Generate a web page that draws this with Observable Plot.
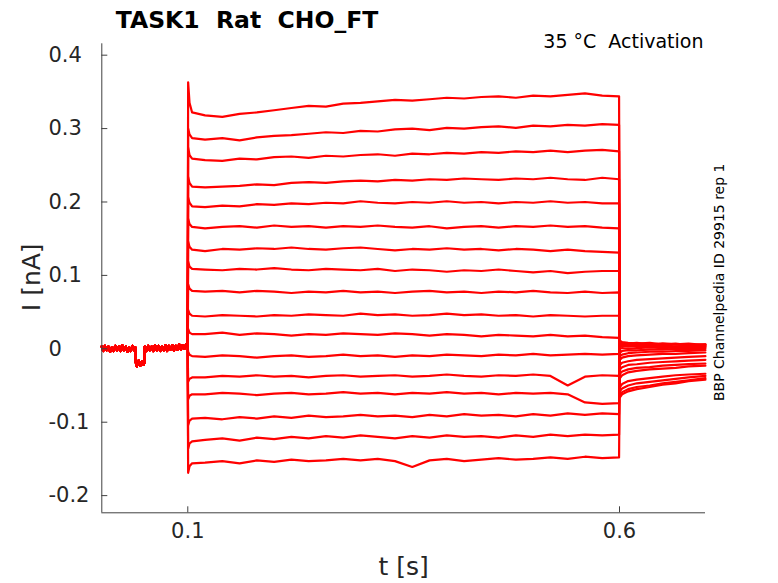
<!DOCTYPE html>
<html><head><meta charset="utf-8">
<script src="https://cdn.jsdelivr.net/npm/d3@7"></script>
<script src="https://cdn.jsdelivr.net/npm/@observablehq/plot@0.6"></script>
<style>
html,body{margin:0;padding:0;background:#fff;}
svg text{white-space:pre;}
</style></head><body><div id="chart"></div>
<script>
// ---- data (currents in pA, times in s) ----
const xTicks = [0.1, 0.6];
const yTicks = [-0.2, -0.1, 0, 0.1, 0.2, 0.3, 0.4];
const xDomain = [0.0004, 0.6996];
const yDomain = [-0.2234, 0.4155];

const holdT = [0.0004, 0.002, 0.004, 0.006, 0.008, 0.010, 0.012, 0.014, 0.016, 0.018, 0.020, 0.022, 0.024, 0.026, 0.028, 0.030, 0.032, 0.034, 0.036, 0.038, 0.0392, 0.0396, 0.041, 0.043, 0.045, 0.047, 0.049, 0.0498, 0.0502, 0.052, 0.054, 0.056, 0.058, 0.060, 0.062, 0.064, 0.066, 0.068, 0.070, 0.072, 0.074, 0.076, 0.078, 0.080, 0.082, 0.084, 0.086, 0.088, 0.090, 0.092, 0.094, 0.096, 0.098, 0.0998];
const holdI = [3, -3, 4, -2, 3, -4, 2, -3, 4, -2, 3, -3, 5, -2, 3, -4, 2, -3, 4, -2, 2, -18, -24, -16, -23, -17, -22, -18, 3, -3, 4, -2, 3, -3, 5, -2, 4, -3, 3, -2, 5, -3, 4, -1, 5, -2, 4, -1, 6, -1, 5, 0, 6, 4];

const stepT = [0.1004, 0.102, 0.105, 0.12, 0.14, 0.16, 0.18, 0.20, 0.22, 0.24, 0.26, 0.28, 0.30, 0.32, 0.34, 0.36, 0.38, 0.40, 0.42, 0.44, 0.46, 0.48, 0.50, 0.52, 0.54, 0.56, 0.58, 0.5995];
const step1  = [363, 335, 322, 318,316,320,322,325,328,331,330,334,335,337,339,338,340,342,341,343,344,342,345,344,346,348,345,344];
const step2  = [300, 292, 287, 285,287,284,288,290,291,293,295,294,297,296,299,300,298,301,300,302,303,301,304,303,305,304,306,305];
const step3  = [274, 264, 259, 257,256,259,258,261,262,260,263,262,264,265,263,266,265,267,266,268,267,269,268,270,268,270,271,269];
const step4  = [234, 226, 221, 220,221,222,224,223,226,227,226,228,229,228,230,229,231,230,232,231,230,232,231,233,231,230,233,231];
const step5  = [206, 199, 194, 193,195,194,197,196,198,197,199,198,201,199,198,200,199,201,199,200,198,200,199,201,199,200,198,198];
const step6  = [177, 170, 166, 164,166,167,165,168,166,167,165,167,166,168,166,165,167,164,166,167,165,167,166,168,166,167,165,164];
const step7  = [146, 139, 135, 133,136,135,137,136,138,136,135,137,138,136,134,136,135,137,135,136,134,136,135,133,135,133,132,131];
const step8  = [119, 112, 109, 108,107,109,108,110,108,107,109,108,107,109,106,108,107,105,107,106,108,106,104,106,103,105,106,106];
const step9  = [88, 82, 79, 78,79,77,79,78,76,78,77,79,77,78,76,78,79,77,78,76,78,77,79,77,76,78,76,77];
const step10 = [53, 48, 45, 44,46,45,44,46,45,47,46,45,48,46,47,45,46,48,46,47,45,46,44,46,45,44,45,45];
const step11 = [27, 22, 20, 20,22,19,21,20,18,20,19,21,20,19,21,20,18,20,19,17,19,18,17,19,17,18,16,15];
const step12 = [-4, -8, -10, -11,-9,-10,-12,-10,-9,-11,-10,-8,-10,-9,-11,-9,-10,-8,-9,-10,-8,-9,-7,-9,-8,-7,-8,-7];
const step13 = [-45, -41, -39, -39,-37,-38,-36,-38,-37,-39,-37,-36,-38,-37,-36,-38,-37,-35,-37,-38,-36,-37,-35,-37,-50,-38,-36,-37];
const step14 = [-69, -64, -62, -62,-60,-61,-63,-61,-60,-62,-61,-59,-61,-60,-62,-60,-61,-59,-61,-60,-62,-60,-61,-60,-62,-73,-75,-74];
const step15 = [-104, -98, -95, -94,-96,-93,-95,-92,-94,-91,-93,-92,-90,-92,-91,-93,-90,-92,-89,-91,-90,-92,-89,-91,-88,-90,-88,-89];
const step16 = [-136, -129, -126, -124,-122,-125,-121,-123,-120,-122,-119,-121,-118,-120,-122,-119,-121,-118,-120,-119,-121,-118,-120,-117,-119,-117,-118,-117];
const step17 = [-169, -160, -156, -155,-153,-156,-152,-154,-151,-153,-152,-150,-152,-150,-153,-161,-152,-150,-153,-151,-149,-151,-150,-148,-150,-147,-149,-148];

const tailT = [0.6005, 0.603, 0.61, 0.62, 0.635, 0.65, 0.665, 0.68, 0.6995];
const tail1  = [-66, -62, -58, -55, -52, -49, -47, -44, -42];
const tail2  = [-63, -59, -55, -52, -50, -47, -45, -43, -40];
const tail3  = [-58, -54, -50, -47, -45, -43, -41, -39, -37];
const tail4  = [-52, -48, -44, -42, -40, -38, -36, -35, -34];
const tail5  = [-40, -36, -32, -30, -28, -27, -26, -24, -23];
const tail6  = [-34, -31, -28, -26, -25, -23, -22, -21, -20];
const tail7  = [-28, -25, -22, -21, -19, -18, -17, -16, -15];
const tail8  = [-22, -19, -17, -15, -14, -13, -12, -11, -10];
const tail9  = [-15, -12, -10, -9, -8, -7, -7, -6, -5];
const tail10 = [-10, -8, -6, -5, -4, -4, -3, -3, -2];
const tail11 = [-5, -3, -2, -2, -1, -1, 0, 0, 0];
const tail12 = [0, 1, 0, 1, 2, 1, 2, 1, 2];
const tail13 = [3, 4, 3, 4, 3, 4, 3, 4, 3];
const tail14 = [5, 5, 4, 6, 5, 4, 6, 5, 4];
const tail15 = [7, 6, 7, 6, 5, 7, 6, 5, 6];
const tail16 = [9, 8, 7, 8, 6, 7, 6, 7, 5];
const tail17 = [11, 9, 8, 7, 8, 6, 7, 5, 6];

const steps = [step1, step2, step3, step4, step5, step6, step7, step8, step9, step10, step11, step12, step13, step14, step15, step16, step17];
const tails = [tail1, tail2, tail3, tail4, tail5, tail6, tail7, tail8, tail9, tail10, tail11, tail12, tail13, tail14, tail15, tail16, tail17];

const title = "TASK1  Rat  CHO_FT";
const note = "35 °C  Activation";
const sideNote = "BBP Channelpedia ID 29915 rep 1";
const xLabel = "t [s]";
const yLabel = "I [nA]";

// ---- build table ----
const rows = [];
steps.forEach((s, k) => {
  holdT.forEach((t, j) => rows.push({trace: k, t, i: holdI[j] / 1000}));
  stepT.forEach((t, j) => { if (s[j] !== undefined) rows.push({trace: k, t, i: s[j] / 1000}); });
  tailT.forEach((t, j) => { if (tails[k][j] !== undefined) rows.push({trace: k, t, i: tails[k][j] / 1000}); });
});

const W = 778, H = 583, mL = 101.3, mR = 73, mT = 43.3, mB = 70.7;
const plotW = W - mL - mR, plotH = H - mT - mB;
const axisColor = "#404040";

const plot = Plot.plot({
  width: W, height: H,
  marginLeft: mL, marginRight: mR, marginTop: mT, marginBottom: mB,
  style: {fontFamily: "DejaVu Sans", fontSize: "21px", color: "#262626", background: "#fff", overflow: "visible"},
  x: {domain: xDomain},
  y: {domain: yDomain},
  marks: [
    Plot.line(rows, {x: "t", y: "i", z: "trace", stroke: "#ff0000", strokeWidth: 2.2, curve: "linear"}),
    Plot.ruleX([xDomain[0]], {stroke: axisColor, strokeWidth: 1}),
    Plot.ruleY([yDomain[0]], {stroke: axisColor, strokeWidth: 1}),
    Plot.tickX(xTicks, {x: d => d, insetTop: plotH - 6, stroke: axisColor}),
    Plot.tickY(yTicks, {y: d => d, insetRight: plotW - 6, stroke: axisColor}),
    Plot.axisX({ticks: xTicks, tickSize: 0, tickPadding: 10, tickFormat: d => String(d), label: null, fontSize: 21, fill: "#262626"}),
    Plot.axisY({ticks: [], tickSize: 0, label: null}),
    Plot.text(yTicks, {frameAnchor: "left", y: d => d, text: d => String(d), textAnchor: "start", dx: -53.3, fontSize: 21, fill: "#262626"}),
    Plot.text([title], {frameAnchor: "top-left", text: d => d, dx: 145.2, dy: -16.3, textAnchor: "middle", lineAnchor: "bottom", fontSize: 23.5, fontWeight: "bold", fill: "#000"}),
    Plot.text([note], {frameAnchor: "top-right", text: d => d, dx: -2, dy: 3.7, textAnchor: "end", lineAnchor: "bottom", fontSize: 19, fill: "#000"}),
    Plot.text([sideNote], {frameAnchor: "right", text: d => d, dx: 18, dy: 4, rotate: -90, textAnchor: "middle", lineAnchor: "bottom", fontSize: 14, fill: "#000"}),
    Plot.text([yLabel], {frameAnchor: "left", text: d => d, dx: -62.3, dy: -1, rotate: -90, textAnchor: "middle", lineAnchor: "bottom", fontSize: 25, fill: "#262626"}),
    Plot.text([xLabel], {frameAnchor: "bottom", text: d => d, dy: 61.7, textAnchor: "middle", lineAnchor: "bottom", fontSize: 25, fill: "#262626"})
  ]
});
document.getElementById("chart").appendChild(plot);
</script>
</body></html>
